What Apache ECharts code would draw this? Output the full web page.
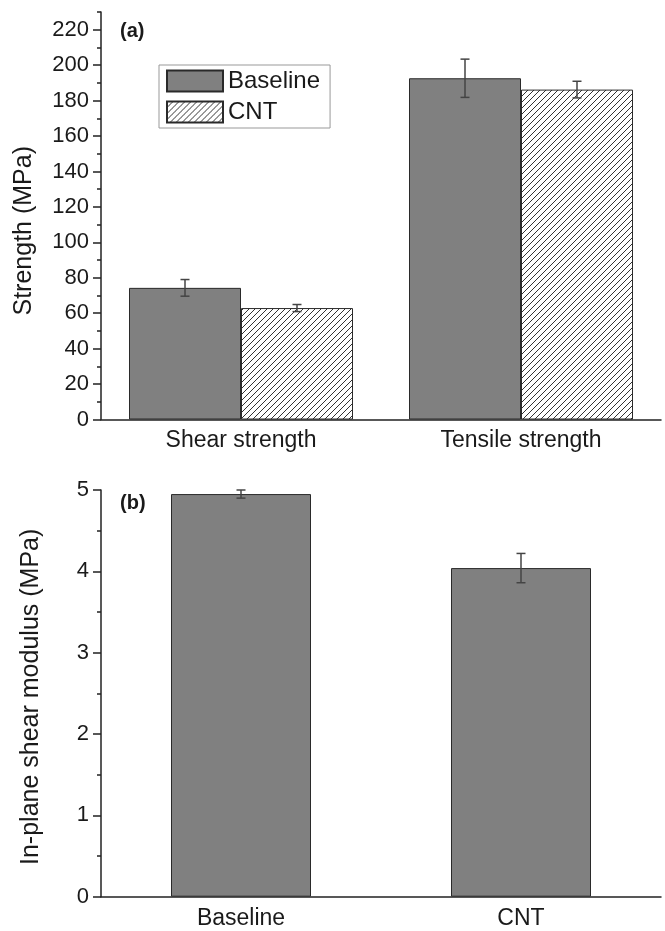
<!DOCTYPE html>
<html>
<head>
<meta charset="utf-8">
<script src="https://cdn.jsdelivr.net/npm/echarts@6/dist/echarts.min.js"></script>
<style>
  html, body { margin: 0; padding: 0; background: #fff; }
  #chart { width: 665px; height: 931px; }
</style>
</head>
<body>
<div id="chart"></div>
<script>
// (a) strength data
const strengthCats = ['Shear strength', 'Tensile strength']
const baselineStrength = [74.3, 192.6]
const baselineStrengthErr = [4.7, 10.8]
const cntStrength = [62.9, 186.2]
const cntStrengthErr = [2.0, 4.7]
const strengthTicks = [0, 20, 40, 60, 80, 100, 120, 140, 160, 180, 200, 220]

// (b) in-plane shear modulus data
const modulusCats = ['Baseline', 'CNT']
const modulusValues = [4.95, 4.04]
const modulusErr = [0.05, 0.18]

const FONT = '"Liberation Sans", Arial, sans-serif'
const INK = '#1a1a1a'
const lineStyle = { color: '#222', width: 1.5 }

// hatch pattern for CNT bars
const makeHatch = () => {
  const c = document.createElement('canvas')
  c.width = 6
  c.height = 6
  const ctx = c.getContext('2d')
  ctx.fillStyle = '#fff'
  ctx.fillRect(0, 0, 6, 6)
  ctx.strokeStyle = '#333'
  ctx.lineWidth = 1
  ctx.beginPath()
  ctx.moveTo(0, 6); ctx.lineTo(6, 0)
  ctx.moveTo(-1, 1); ctx.lineTo(1, -1)
  ctx.moveTo(5, 7); ctx.lineTo(7, 5)
  ctx.stroke()
  return c
}
const hatch = { image: makeHatch(), repeat: 'repeat' }

// error bars, offset is fraction of the category band
const errorBars = (values, errs, offset, axisIndex) => ({
  type: 'custom',
  xAxisIndex: axisIndex,
  yAxisIndex: axisIndex,
  z: 10,
  silent: true,
  encode: { x: 0, y: [1, 2] },
  data: values.map((v, i) => [i, v - errs[i], v + errs[i]]),
  renderItem: (params, api) => {
    const band = api.size([1, 0])[0]
    const lo = api.coord([api.value(0), api.value(1)])
    const hi = api.coord([api.value(0), api.value(2)])
    const x = lo[0] + band * offset
    const w = 4.5
    const style = { stroke: '#444', lineWidth: 1.5 }
    return {
      type: 'group',
      children: [
        { type: 'line', shape: { x1: x, y1: lo[1], x2: x, y2: hi[1] }, style },
        { type: 'line', shape: { x1: x - w, y1: lo[1], x2: x + w, y2: lo[1] }, style },
        { type: 'line', shape: { x1: x - w, y1: hi[1], x2: x + w, y2: hi[1] }, style },
      ],
    }
  },
})

const catAxis = (gridIndex, data) => ({
  gridIndex,
  type: 'category',
  position: 'bottom',
  data,
  axisLine: { lineStyle },
  axisTick: { alignWithLabel: true, length: 7, lineStyle },
  axisLabel: { fontSize: 23, color: INK, margin: 10, fontFamily: FONT },
})
// second axis only for the short ticks between categories
const boundaryAxis = (gridIndex, data) => ({
  gridIndex,
  type: 'category',
  position: 'bottom',
  data,
  axisLine: { show: false },
  axisTick: { length: 4, lineStyle },
  axisLabel: { show: false },
})

const myChart = echarts.init(document.querySelector('#chart'))
myChart.setOption({
  animation: false,
  textStyle: { fontFamily: FONT },
  title: [
    { text: '(a)', left: 115, top: 16, textStyle: { fontSize: 20, fontWeight: 'bold', color: INK, fontFamily: FONT } },
    { text: '(b)', left: 115, top: 488, textStyle: { fontSize: 20, fontWeight: 'bold', color: INK, fontFamily: FONT } },
  ],
  legend: {
    data: ['Baseline', 'CNT'],
    orient: 'vertical',
    left: 159,
    top: 65,
    padding: [4, 10, 4, 7],
    itemGap: 7,
    itemWidth: 56,
    itemHeight: 21,
    icon: 'rect',
    borderColor: '#999',
    borderWidth: 1,
    textStyle: { fontSize: 24, color: INK, lineHeight: 24, fontFamily: FONT },
  },
  grid: [
    { left: 101, top: 12, width: 560, height: 407.5 },
    { left: 101, top: 490, width: 560, height: 406.7 },
  ],
  xAxis: [
    catAxis(0, strengthCats),
    boundaryAxis(0, strengthCats),
    catAxis(1, modulusCats),
    boundaryAxis(1, modulusCats),
  ],
  yAxis: [
    {
      gridIndex: 0,
      type: 'value',
      position: 'left',
      min: 0,
      max: 230,
      interval: 20,
      name: 'Strength (MPa)',
      nameLocation: 'middle',
      nameGap: 64,
      nameTextStyle: { fontSize: 25, color: INK, padding: [0, 30, 0, 0], fontFamily: FONT },
      axisLine: { show: false },
      axisTick: { show: true, length: 8, lineStyle, customValues: strengthTicks },
      axisLabel: { fontSize: 22, color: INK, margin: 12, customValues: strengthTicks, fontFamily: FONT },
      splitLine: { show: false },
    },
    {
      gridIndex: 0,
      type: 'value',
      position: 'left',
      min: 0,
      max: 230,
      interval: 10,
      axisLine: { show: true, lineStyle },
      axisTick: { show: true, length: 4, lineStyle },
      axisLabel: { show: false },
      splitLine: { show: false },
    },
    {
      gridIndex: 1,
      type: 'value',
      position: 'left',
      min: 0,
      max: 5,
      interval: 1,
      name: 'In-plane shear modulus (MPa)',
      nameLocation: 'middle',
      nameGap: 57,
      nameTextStyle: { fontSize: 25, color: INK, padding: [0, 7, 0, 0], fontFamily: FONT },
      axisLine: { show: true, lineStyle },
      axisTick: { show: true, length: 8, lineStyle },
      minorTick: { show: true, splitNumber: 2, length: 4, lineStyle },
      axisLabel: { fontSize: 22, color: INK, margin: 12, fontFamily: FONT },
      splitLine: { show: false },
    },
  ],
  series: [
    {
      name: 'Baseline',
      type: 'bar',
      xAxisIndex: 0,
      yAxisIndex: 0,
      barGap: '0%',
      barCategoryGap: '20%',
      data: baselineStrength,
      itemStyle: { color: '#808080', borderColor: '#2a2a2a', borderWidth: 1 },
    },
    {
      name: 'CNT',
      type: 'bar',
      xAxisIndex: 0,
      yAxisIndex: 0,
      barGap: '0%',
      barCategoryGap: '20%',
      data: cntStrength,
      itemStyle: { color: hatch, borderColor: '#2a2a2a', borderWidth: 1 },
    },
    errorBars(baselineStrength, baselineStrengthErr, -0.2, 0),
    errorBars(cntStrength, cntStrengthErr, 0.2, 0),
    {
      name: 'Modulus',
      type: 'bar',
      xAxisIndex: 2,
      yAxisIndex: 2,
      barWidth: '50%',
      data: modulusValues,
      itemStyle: { color: '#808080', borderColor: '#2a2a2a', borderWidth: 1 },
    },
    Object.assign(errorBars(modulusValues, modulusErr, 0, 2), {}),
  ],
})
</script>
</body>
</html>
